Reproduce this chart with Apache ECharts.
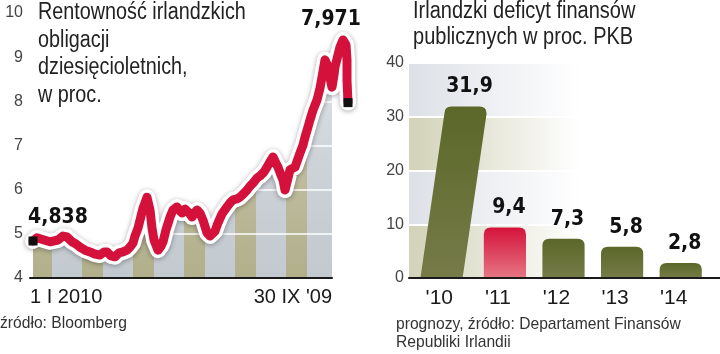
<!DOCTYPE html>
<html>
<head>
<meta charset="utf-8">
<script src="https://cdn.jsdelivr.net/npm/echarts@6/dist/echarts.min.js"></script>
<style>
  html, body { margin: 0; padding: 0; background: #fff; }
  #chart { width: 720px; height: 354px; }
</style>
</head>
<body>
<div id="chart"></div>
<script>
// left panel: 10-year Irish bond yield (x = trading day from start)
var days = [3, 7, 14, 20, 28, 33, 37, 42, 46, 50, 55, 60, 65, 70, 74, 77, 81, 85, 89, 93,
    97, 100, 103, 105, 108, 110, 113, 117, 120, 122, 124, 128, 131, 133, 136, 140, 143, 147, 150, 152,
    155, 157, 160, 162, 165, 167, 170, 173, 177, 180, 182, 185, 188, 192, 197, 200, 203, 207, 210, 214,
    217, 220, 223, 227, 230, 234, 237, 240, 243, 246, 248, 251, 253, 255, 258, 260, 265, 270, 273, 275,
    278, 280, 283, 287, 290, 292, 295, 298, 300, 302, 304, 305, 308, 310, 313, 315, 316, 317, 317, 318];
var yields = [4.838, 4.91, 4.86, 4.82, 4.86, 4.95, 4.93, 4.82, 4.77, 4.70, 4.63, 4.59, 4.54, 4.52, 4.59, 4.59, 4.50, 4.48, 4.57, 4.59,
    4.63, 4.70, 4.79, 4.95, 5.13, 5.31, 5.58, 5.83, 5.54, 5.13, 4.86, 4.63, 4.72, 4.82, 5.09, 5.38, 5.54, 5.61, 5.52, 5.47,
    5.56, 5.58, 5.45, 5.38, 5.49, 5.54, 5.47, 5.31, 5.02, 4.95, 4.91, 5.06, 5.25, 5.45, 5.61, 5.70, 5.77, 5.79, 5.83, 5.92,
    5.99, 6.08, 6.15, 6.26, 6.31, 6.40, 6.51, 6.63, 6.74, 6.60, 6.51, 6.33, 6.22, 5.99, 6.26, 6.45, 6.51, 6.83, 7.01, 7.19,
    7.42, 7.58, 7.80, 8.03, 8.30, 8.55, 8.94, 8.78, 8.53, 8.32, 8.60, 8.78, 9.05, 9.23, 9.39, 9.43, 9.28, 8.94, 8.48, 7.971];
var dateLabels = ['1 I 2010', "30 IX '09"];

// right panel: deficit, % of GDP
var years = ["'10", "'11", "'12", "'13", "'14"];
var deficit = [31.9, 9.4, 7.3, 5.8, 2.8];

var redIndex = 1;
var SLANT = 24;   // the tall first bar leans right

var SANS = '"Liberation Sans", Arial, sans-serif';
var BOLD = '"DejaVu Sans Condensed", "DejaVu Sans", sans-serif';

function fmt(v) {
    return String(v).replace('.', ',');
}

// vertical stripes under the yield line, fading toward the top
function stripeTile() {
    var c = document.createElement('canvas');
    c.width = 51;
    c.height = 354;
    var g = c.getContext('2d');
    g.fillStyle = '#c2c9cf';
    g.fillRect(0, 0, 51, 354);
    g.fillStyle = '#b2af8b';
    g.fillRect(31, 0, 20, 354);
    g.fillRect(0, 0, 1, 354);
    var fade = g.createLinearGradient(0, 30, 0, 278);
    fade.addColorStop(0, 'rgba(255,255,255,0.6)');
    fade.addColorStop(0.5, 'rgba(255,255,255,0.2)');
    fade.addColorStop(1, 'rgba(255,255,255,0)');
    g.fillStyle = fade;
    g.fillRect(0, 0, 51, 354);
    return c;
}

var linePts = days.map(function (d, i) { return [d, yields[i]]; });
var last = linePts.length - 1;

var chart = echarts.init(document.getElementById('chart'), null, { renderer: 'canvas' });

function band(c) {
    return new echarts.graphic.LinearGradient(0, 0, 1, 0, [
        { offset: 0, color: c },
        { offset: 0.55, color: echarts.color.lift(c, -0.5) },
        { offset: 0.95, color: '#ffffff' },
        { offset: 1, color: '#ffffff' }
    ]);
}

var option = {
    animation: false,
    textStyle: { fontFamily: SANS },
    grid: [
        // yield line (reaches past the axis end)
        { left: 30, right: 370, top: 13, bottom: 76 },
        // stripes + axis of the left panel
        { left: 30, right: 388, top: 13, bottom: 76 },
        // right panel background
        { left: 409, right: 0, top: 63, bottom: 76 },
        // right panel bars
        { left: 417, right: 10, top: 63, bottom: 76 }
    ],
    xAxis: [
        { gridIndex: 0, type: 'value', min: 0, max: 320, show: false },
        {
            gridIndex: 1, type: 'value', min: 0, max: 302, interval: 302, z: 6,
            axisLine: { lineStyle: { color: '#1a1a1a', width: 2 } },
            axisTick: { show: false },
            splitLine: { show: false },
            axisLabel: {
                color: '#1a1a1a', fontSize: 20, margin: 9,
                alignMinLabel: 'left', alignMaxLabel: 'right',
                formatter: function (v) { return v === 0 ? dateLabels[0] : dateLabels[1]; }
            }
        },
        {
            gridIndex: 2, type: 'value', min: 0, max: 1, z: 6,
            axisLine: { show: true, lineStyle: { color: '#1a1a1a', width: 2 } },
            axisTick: { show: false }, axisLabel: { show: false }, splitLine: { show: false }
        },
        {
            gridIndex: 3, type: 'category', data: years,
            axisLine: { show: false }, axisTick: { show: false },
            axisLabel: { color: '#1a1a1a', fontSize: 21, margin: 10, padding: [0, 14, 0, 0] }
        }
    ],
    yAxis: [
        {
            gridIndex: 0, type: 'value', min: 4, max: 10, interval: 1,
            axisLine: { show: false }, axisTick: { show: false },
            axisLabel: { color: '#444', fontSize: 16, margin: 7 },
            splitLine: { show: false }
        },
        {
            gridIndex: 1, type: 'value', min: 4, max: 10, interval: 1, z: 2,
            axisLine: { show: false }, axisTick: { show: false }, axisLabel: { show: false },
            splitLine: { lineStyle: { color: '#ffffff', width: 1.5 } }
        },
        {
            gridIndex: 2, type: 'value', min: 0, max: 40, interval: 10,
            axisLine: { show: false }, axisTick: { show: false },
            axisLabel: { color: '#444', fontSize: 16, margin: 5 },
            splitLine: { lineStyle: { color: '#ffffff', width: 2 } },
            splitArea: { show: true, areaStyle: { color: [band('#d2d2b9'), band('#dde1e7')] } }
        },
        { gridIndex: 3, type: 'value', min: 0, max: 40, show: false }
    ],
    series: [
        {
            type: 'line', xAxisIndex: 1, yAxisIndex: 1, z: 1,
            data: linePts, showSymbol: false,
            lineStyle: { width: 0 },
            areaStyle: { color: { image: stripeTile(), repeat: 'repeat' }, opacity: 1 }
        },
        {
            type: 'line', xAxisIndex: 0, yAxisIndex: 0, z: 3,
            data: linePts, showSymbol: false,
            lineStyle: {
                color: '#ffffff', width: 16, cap: 'round', join: 'round',
                shadowColor: 'rgba(0,0,0,0.35)', shadowBlur: 5, shadowOffsetY: 1
            }
        },
        {
            type: 'line', xAxisIndex: 0, yAxisIndex: 0, z: 4,
            data: linePts, showSymbol: false,
            lineStyle: { color: '#d4113a', width: 9, cap: 'round', join: 'round' }
        },
        {
            type: 'scatter', xAxisIndex: 0, yAxisIndex: 0, z: 5, clip: false,
            symbol: 'rect', symbolSize: 9,
            itemStyle: { color: '#111', opacity: 1 },
            data: [
                { value: linePts[0], label: { offset: [25, -3] } },
                { value: linePts[last], label: { offset: [-17, -63] } }
            ],
            label: {
                show: true, position: 'top',
                fontFamily: BOLD, fontWeight: 'bold', fontSize: 21, color: '#111',
                formatter: function (p) { return fmt(p.value[1]); }
            }
        },
        {
            type: 'custom', xAxisIndex: 3, yAxisIndex: 3, z: 3,
            data: deficit.map(function (v, i) { return [i, v]; }),
            renderItem: function (params, api) {
                var i = api.value(0);
                var v = api.value(1);
                var base = api.coord([i, 0]);
                var top = api.coord([i, v]);
                var w = api.size([1, 0])[0] * 0.72;
                var lean = params.dataIndex === 0 ? SLANT : 0;
                var bx = base[0] - lean * 0.2;
                var tx = top[0] + lean * 0.8;
                var by = base[1], ty = top[1], r = 7;
                var path = 'M' + (bx - w / 2) + ' ' + by +
                    ' L' + (tx - w / 2) + ' ' + (ty + r) +
                    ' Q' + (tx - w / 2) + ' ' + ty + ' ' + (tx - w / 2 + r) + ' ' + ty +
                    ' L' + (tx + w / 2 - r) + ' ' + ty +
                    ' Q' + (tx + w / 2) + ' ' + ty + ' ' + (tx + w / 2) + ' ' + (ty + r) +
                    ' L' + (bx + w / 2) + ' ' + by + ' Z';
                var fill = params.dataIndex === redIndex
                    ? new echarts.graphic.LinearGradient(0, 0, 0, 1, [
                        { offset: 0, color: '#d4133a' }, { offset: 1, color: '#e67685' }])
                    : new echarts.graphic.LinearGradient(0, 0, 0, 1, [
                        { offset: 0, color: '#5b6829' }, { offset: 1, color: '#767b48' }]);
                return {
                    type: 'group',
                    children: [
                        { type: 'path', shape: { pathData: path }, style: { fill: fill } },
                        {
                            type: 'text',
                            style: {
                                text: fmt(v), x: tx + 4, y: ty - 9,
                                align: 'center', verticalAlign: 'bottom',
                                font: 'bold 21px ' + BOLD, fill: '#111'
                            }
                        }
                    ]
                };
            }
        }
    ],
    graphic: [
        {
            type: 'text', left: 38, top: -1, z: 20, scaleX: 0.86,
            style: {
                text: 'Rentowność irlandzkich\nobligacji\ndziesięcioletnich,\nw proc.',
                font: '23px ' + SANS, fill: '#222', lineHeight: 27.5
            }
        },
        {
            type: 'text', left: 413, top: -1, z: 20, scaleX: 0.87,
            style: {
                text: 'Irlandzki deficyt finansów\npublicznych w proc. PKB',
                font: '23px ' + SANS, fill: '#222', lineHeight: 26
            }
        },
        {
            type: 'text', left: 0, top: 315, z: 20, scaleX: 0.92,
            style: { text: 'źródło: Bloomberg', font: '17px ' + SANS, fill: '#333' }
        },
        {
            type: 'text', left: 396, top: 316, z: 20, scaleX: 0.92,
            style: {
                text: 'prognozy, źródło: Departament Finansów\nRepubliki Irlandii',
                font: '17px ' + SANS, fill: '#333', lineHeight: 17.5
            }
        }
    ]
};

chart.setOption(option);
</script>
</body>
</html>
